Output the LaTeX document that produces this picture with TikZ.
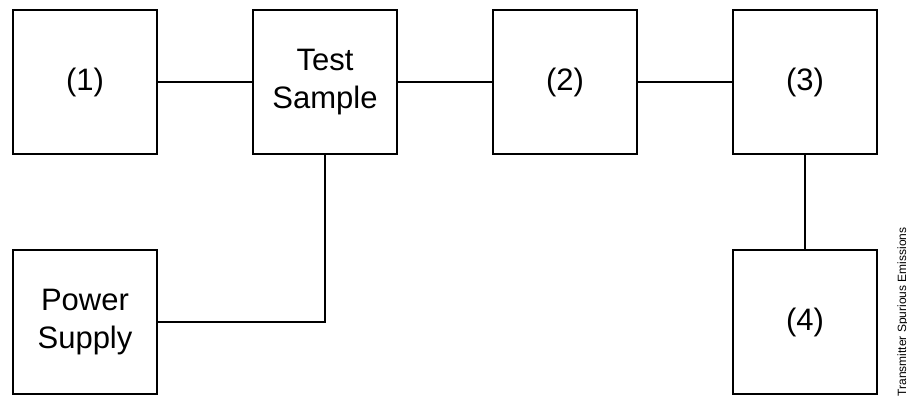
\documentclass[tikz,border=0pt]{standalone}
\usepackage{fontspec}
\setmainfont{Liberation Sans}
\begin{document}
\begin{tikzpicture}[x=1pt,y=1pt,line width=1.5pt]
        \useasboundingbox (0,0) rectangle (907,-398);
        \begin{scope}[every node/.style={rectangle,draw,minimum size=144pt,
                        inner sep=0pt,align=center,
                        font=\fontsize{31}{38}\selectfont}]
            \node (B1) at (85,-82) {(1)};
            \node (S) at (325,-82) {Test\\Sample};
            \node (B2) at (565,-82) {(2)};
            \node (B3) at (805,-82) {(3)};
            \node (P) at (85,-322) {Power\\Supply};
            \node (B4) at (805,-322) {(4)};
        \end{scope}

        \node (T) at (903,-312) [rotate=90,font=\fontsize{12}{14}\selectfont,
                inner sep=0pt] {Transmitter Spurious Emissions};

        \path (B1) edge[draw] (S);
        \path (S) edge[draw] (B2);
        \path (B2) edge[draw] (B3);
        \path (B3) edge[draw] (B4);
        \draw (S.south) |- (P.east);
    \end{tikzpicture}
\end{document}
